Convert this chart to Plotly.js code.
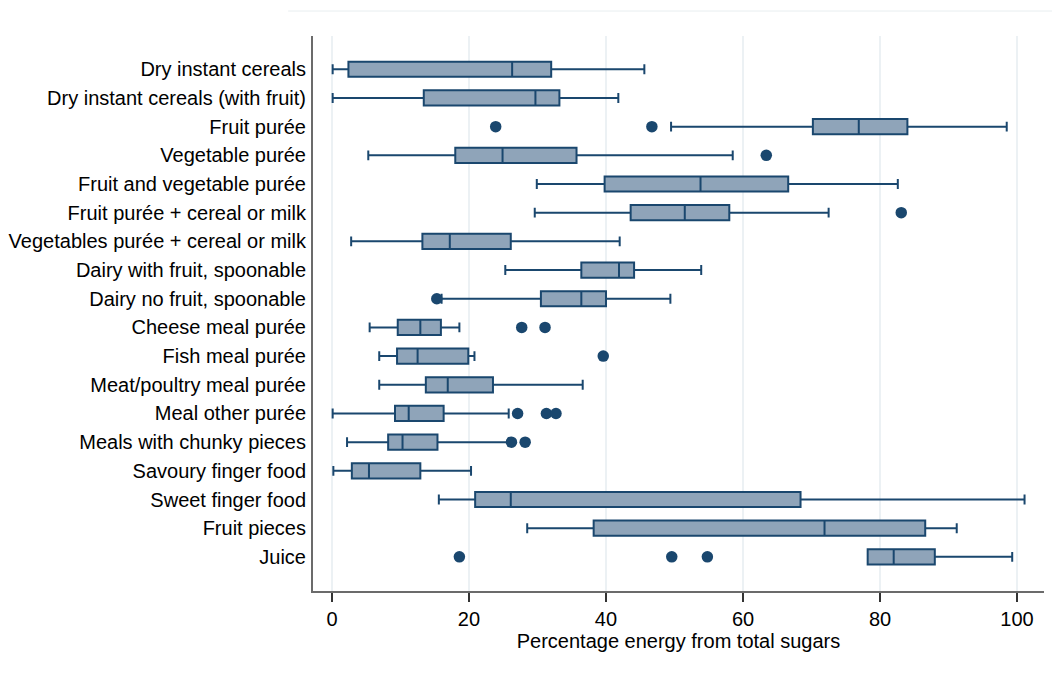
<!DOCTYPE html>
<html>
<head>
<meta charset="utf-8">
<script src="https://cdn.plot.ly/plotly-3.0.1.min.js"></script>
<style>html,body{margin:0;padding:0;background:#fff;}#chart{width:1052px;height:675px;}</style>
</head>
<body>
<div id="chart"></div>
<script>
const categories = [
  "Dry instant cereals",
  "Dry instant cereals (with fruit)",
  "Fruit purée",
  "Vegetable purée",
  "Fruit and vegetable purée",
  "Fruit purée + cereal or milk",
  "Vegetables purée + cereal or milk",
  "Dairy with fruit, spoonable",
  "Dairy no fruit, spoonable",
  "Cheese meal purée",
  "Fish meal purée",
  "Meat/poultry meal purée",
  "Meal other purée",
  "Meals with chunky pieces",
  "Savoury finger food",
  "Sweet finger food",
  "Fruit pieces",
  "Juice"
];
const lowerWhisker = [0.1, 0.1, 49.5, 5.3, 29.9, 29.6, 2.8, 25.3, 16.0, 5.5, 6.9, 6.9, 0.1, 2.2, 0.2, 15.6, 28.5, 78.2];
const q1Values     = [2.4, 13.4, 70.2, 18.0, 39.8, 43.6, 13.2, 36.4, 30.5, 9.6, 9.5, 13.7, 9.2, 8.2, 2.9, 20.9, 38.2, 78.2];
const medianValues = [26.3, 29.7, 76.9, 24.9, 53.8, 51.5, 17.2, 41.9, 36.4, 12.9, 12.5, 16.9, 11.2, 10.3, 5.4, 26.1, 71.9, 82.0];
const q3Values     = [32.0, 33.2, 84.0, 35.7, 66.6, 58.0, 26.1, 44.1, 40.0, 15.9, 19.9, 23.5, 16.3, 15.4, 12.9, 68.4, 86.6, 88.0];
const upperWhisker = [45.6, 41.8, 98.5, 58.5, 82.6, 72.5, 42.0, 53.9, 49.4, 18.6, 20.8, 36.6, 25.8, 25.8, 20.3, 101.1, 91.2, 99.3];

const outlierCategory = [
  "Fruit purée", "Fruit purée",
  "Vegetable purée",
  "Fruit purée + cereal or milk",
  "Dairy no fruit, spoonable",
  "Cheese meal purée", "Cheese meal purée",
  "Fish meal purée",
  "Meal other purée", "Meal other purée", "Meal other purée",
  "Meals with chunky pieces", "Meals with chunky pieces",
  "Juice", "Juice", "Juice"
];
const outlierValue = [23.9, 46.7, 63.4, 83.1, 15.3, 27.7, 31.1, 39.6, 27.1, 31.3, 32.7, 26.2, 28.2, 18.6, 49.6, 54.8];

const xTickValues = [0, 20, 40, 60, 80, 100];
const xTitle = "Percentage energy from total sugars";

const lineColor = "rgb(26,71,110)";
const fillColor = "rgb(143,164,185)";

const traces = [
  {
    type: "box",
    orientation: "h",
    y: categories,
    q1: q1Values,
    median: medianValues,
    q3: q3Values,
    lowerfence: lowerWhisker,
    upperfence: upperWhisker,
    width: 0.53,
    whiskerwidth: 0.65,
    fillcolor: fillColor,
    line: {color: lineColor, width: 2},
    hoverinfo: "skip",
    showlegend: false
  },
  {
    type: "scatter",
    mode: "markers",
    x: outlierValue,
    y: outlierCategory,
    marker: {color: lineColor, size: 11.5, line: {width: 0}},
    hoverinfo: "skip",
    showlegend: false
  }
];

const n = categories.length;
const layout = {
  width: 1052,
  height: 675,
  margin: {l: 313, r: 8, t: 36, b: 84},
  paper_bgcolor: "#ffffff",
  plot_bgcolor: "#ffffff",
  font: {family: "Liberation Sans, Arial, sans-serif", size: 20, color: "#000"},
  showlegend: false,
  xaxis: {
    range: [-2.77, 103.94],
    tickvals: xTickValues,
    ticktext: xTickValues.map(String),
    showgrid: true,
    gridcolor: "#ecf1f4",
    gridwidth: 1.5,
    zeroline: false,
    showline: true,
    linecolor: "#6b6b6b",
    linewidth: 2,
    ticks: "outside",
    ticklen: 9,
    tickwidth: 1.5,
    tickcolor: "#333",
    tickfont: {size: 20},
    title: {text: xTitle, font: {size: 20}, standoff: 4},
    fixedrange: true
  },
  yaxis: {
    type: "category",
    categoryorder: "array",
    categoryarray: categories,
    range: [n - 1 + 1.19, -1.16],
    showgrid: false,
    zeroline: false,
    showline: true,
    linecolor: "#6b6b6b",
    linewidth: 2,
    ticks: "",
    ticklabelstandoff: 1,
    tickfont: {size: 20},
    fixedrange: true
  },
  shapes: [
    {type: "line", xref: "paper", yref: "paper", x0: -0.034, x1: 1.011, y0: 1.045, y1: 1.045,
     line: {color: "#e8eef0", width: 1}}
  ]
};

Plotly.newPlot("chart", traces, layout, {displayModeBar: false, staticPlot: true});
</script>
</body>
</html>
